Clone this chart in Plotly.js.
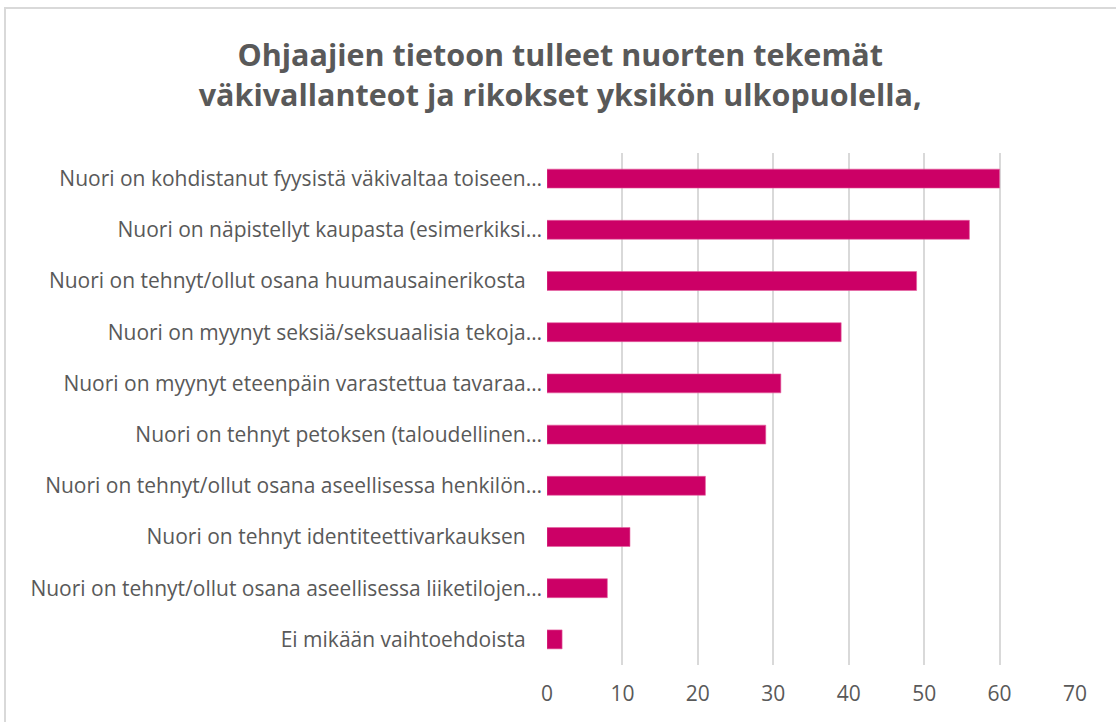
<!DOCTYPE html>
<html>
<head>
<meta charset="utf-8">
<script src="https://cdn.plot.ly/plotly-3.0.1.min.js"></script>
<style>
html,body{margin:0;padding:0;background:#fff;overflow:hidden;}
#chart{position:absolute;left:0;top:0;width:1116px;height:722px;}
#frame{position:absolute;left:4px;top:7px;width:1200px;height:1000px;border:2px solid #d9d9d9;pointer-events:none;}
</style>
</head>
<body>
<div id="chart"></div>
<div id="frame"></div>
<script>
const titleText = "Ohjaajien tietoon tulleet nuorten tekemät<br>väkivallanteot ja rikokset yksikön ulkopuolella,";
const categories = [
  "Nuori on kohdistanut fyysistä väkivaltaa toiseen…",
  "Nuori on näpistellyt kaupasta (esimerkiksi…",
  "Nuori on tehnyt/ollut osana huumausainerikosta\u00a0\u00a0\u00a0",
  "Nuori on myynyt seksiä/seksuaalisia tekoja…",
  "Nuori on myynyt eteenpäin varastettua tavaraa…",
  "Nuori on tehnyt petoksen (taloudellinen…",
  "Nuori on tehnyt/ollut osana aseellisessa henkilön…",
  "Nuori on tehnyt identiteettivarkauksen\u00a0\u00a0\u00a0",
  "Nuori on tehnyt/ollut osana aseellisessa liiketilojen…",
  "Ei mikään vaihtoehdoista\u00a0\u00a0\u00a0"
];
const values = [60, 56, 49, 39, 31, 29, 21, 11, 8, 2];
const xTicks = [0, 10, 20, 30, 40, 50, 60, 70];

const trace = {
  type: "bar",
  orientation: "h",
  y: categories,
  x: values,
  width: 0.37,
  marker: {color: "#CC0066", line: {color: "#E4609F", width: 0.6}},
  hoverinfo: "x+y"
};

const layout = {
  width: 1116, height: 722,
  paper_bgcolor: "#fff", plot_bgcolor: "#fff",
  margin: {l: 547, r: 41, t: 153, b: 57},
  showlegend: false,
  font: {family: "Open Sans, sans-serif", color: "#595959"},
  title: {
    text: titleText,
    font: {family: "Open Sans, sans-serif", size: 30.5, color: "#595959", weight: "bold"},
    x: 0.502, xanchor: "center",
    yref: "container", y: 0.908, yanchor: "middle"
  },
  xaxis: {
    range: [0, 70],
    tickvals: xTicks,
    ticktext: xTicks.map(String),
    showgrid: true, gridcolor: "#D9D9D9", gridwidth: 2,
    zeroline: false, showline: false,
    ticks: "",
    tickfont: {size: 21, color: "#595959"},
    ticklabelstandoff: 14,
    fixedrange: true
  },
  yaxis: {
    autorange: "reversed",
    showgrid: false, zeroline: false, showline: false,
    ticks: "",
    tickfont: {size: 21, color: "#595959"},
    ticklabelstandoff: 4,
    fixedrange: true
  }
};

Plotly.newPlot("chart", [trace], layout, {displayModeBar: false, staticPlot: true});
</script>
</body>
</html>
